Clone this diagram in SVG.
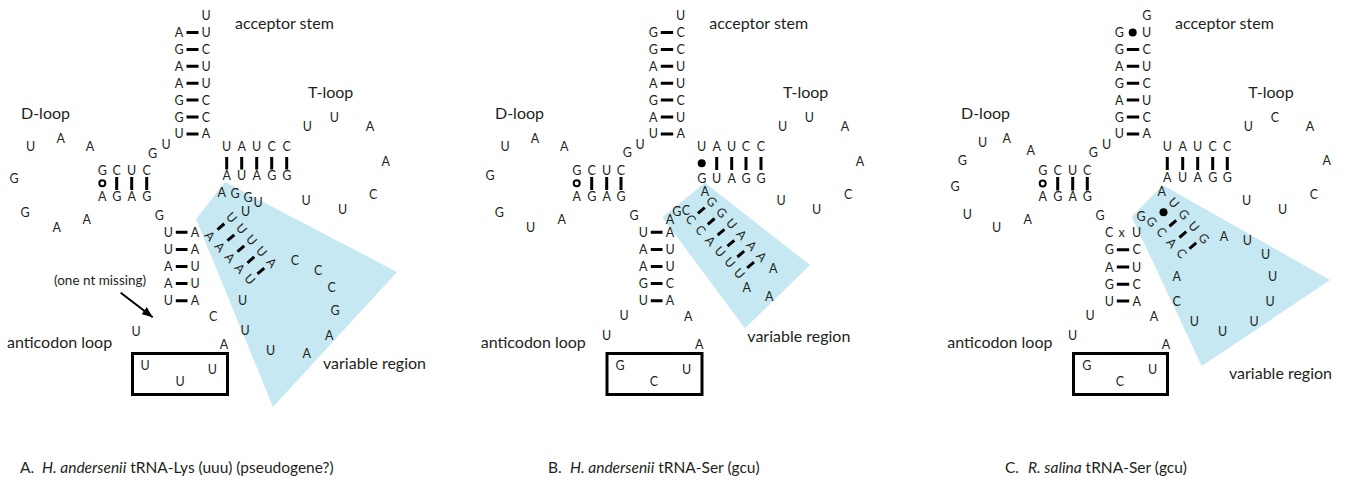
<svg xmlns="http://www.w3.org/2000/svg" width="1347" height="487" viewBox="0 0 1347 487">
<style>
text{font-family:Lato,"Open Sans","Liberation Sans",sans-serif;fill:#231f20}
.n{font-size:12.5px;text-anchor:middle}
.l{font-size:16px}
.s{font-size:13.5px}
.cap{font-size:15.5px}
.i{font-style:italic}
.b{stroke:#000;stroke-width:3;fill:none}
.o{stroke:#000;stroke-width:2;fill:#fff}
.d{fill:#000}
.box{stroke:#000;stroke-width:3;fill:none}
.var{fill:#c6e8f2}
</style>
<defs>
<marker id="ah" viewBox="0 0 10 8" refX="10" refY="4" markerWidth="11" markerHeight="9" orient="auto" markerUnits="userSpaceOnUse"><path d="M0,0 L10,4 L0,8 z" fill="#000"/></marker>
</defs>

<!-- ================= PANEL A ================= -->
<g id="panelA">
<polygon class="var" points="196,219 225,182 397,272 273,407"/>
<g id="A-labels">
<text class="l" x="235" y="28.5">acceptor stem</text>
<text class="l" x="21" y="118.5">D-loop</text>
<text class="l" x="308" y="98.3">T-loop</text>
<text class="l" x="7" y="347.7">anticodon loop</text>
<text class="l" x="323" y="369">variable region</text>
<text class="s" x="54" y="285">(one nt missing)</text>
</g>
<g id="A-acceptor">
<text class="n" x="206" y="19.5">U</text>
<text class="n" x="179" y="37">A</text><text class="n" x="206" y="37">U</text>
<text class="n" x="179" y="53.9">G</text><text class="n" x="206" y="53.9">C</text>
<text class="n" x="179" y="70.8">A</text><text class="n" x="206" y="70.8">U</text>
<text class="n" x="179" y="87.7">A</text><text class="n" x="206" y="87.7">U</text>
<text class="n" x="179" y="104.6">G</text><text class="n" x="206" y="104.6">C</text>
<text class="n" x="179" y="121.5">G</text><text class="n" x="206" y="121.5">C</text>
<text class="n" x="179" y="138.4">U</text><text class="n" x="206" y="138.4">A</text>
<text class="n" x="152.5" y="157.8">G</text><text class="n" x="166.2" y="149.2">U</text>
</g>
<g id="A-darm">
<text class="n" x="30.7" y="151.2">U</text><text class="n" x="60.7" y="142.8">A</text><text class="n" x="90" y="151.2">A</text>
<text class="n" x="14" y="182.8">G</text><text class="n" x="25" y="217.2">G</text><text class="n" x="56.7" y="232.2">A</text><text class="n" x="86.7" y="223.8">A</text>
<text class="n" x="102.3" y="174.5">G</text><text class="n" x="116.7" y="174.5">C</text><text class="n" x="131.7" y="174.5">U</text><text class="n" x="146.7" y="174.5">C</text>
<text class="n" x="102.3" y="200.5">A</text><text class="n" x="116.7" y="200.5">G</text><text class="n" x="131.7" y="200.5">A</text><text class="n" x="146.7" y="200.5">G</text>
<text class="n" x="159.3" y="219.5">G</text>
</g>
<g id="A-tarm">
<text class="n" x="226.7" y="151.2">U</text><text class="n" x="241.7" y="151.2">A</text><text class="n" x="256.7" y="151.2">U</text><text class="n" x="271.7" y="151.2">C</text><text class="n" x="286.7" y="151.2">C</text>
<text class="n" x="226.7" y="180.2">A</text><text class="n" x="241.7" y="180.2">U</text><text class="n" x="256.7" y="180.2">A</text><text class="n" x="271.7" y="180.2">G</text><text class="n" x="286.7" y="180.2">G</text>
<text class="n" x="307.3" y="130.5">U</text><text class="n" x="334.3" y="121.8">U</text><text class="n" x="370" y="131.2">A</text><text class="n" x="385.7" y="166.2">A</text>
<text class="n" x="373.3" y="198.5">C</text><text class="n" x="342.7" y="213.8">U</text><text class="n" x="306" y="204.5">U</text>
</g>
<g id="A-variable">
<text class="n" x="221.7" y="196.5">A</text><text class="n" x="235" y="197.8">G</text><text class="n" x="248" y="201.5">G</text><text class="n" x="258" y="206.5">U</text><text class="n" x="245.7" y="216.2">U</text>
<text class="n" transform="translate(231.7 217.3) rotate(48)" y="4.5">U</text>
<text class="n" transform="translate(241.7 228.65) rotate(48)" y="4.5">U</text>
<text class="n" transform="translate(251.7 240) rotate(48)" y="4.5">U</text>
<text class="n" transform="translate(261.7 251.35) rotate(48)" y="4.5">U</text>
<text class="n" transform="translate(271.7 262.7) rotate(48)" y="4.5">A</text>
<text class="n" transform="translate(210 236) rotate(48)" y="4.5">A</text>
<text class="n" transform="translate(220 246.8) rotate(48)" y="4.5">A</text>
<text class="n" transform="translate(230 257.6) rotate(48)" y="4.5">A</text>
<text class="n" transform="translate(240 268.4) rotate(48)" y="4.5">A</text>
<text class="n" transform="translate(250 279.2) rotate(48)" y="4.5">U</text>
<text class="n" x="295" y="264.5">C</text><text class="n" x="318.3" y="274.5">C</text><text class="n" x="331.7" y="291.8">C</text><text class="n" x="335" y="314.5">G</text>
<text class="n" x="329.3" y="339.5">A</text><text class="n" x="306.7" y="357.8">A</text><text class="n" x="270.7" y="354.5">U</text><text class="n" x="245" y="334.5">U</text><text class="n" x="242.7" y="305.2">U</text>
</g>
<g id="A-anticodon">
<text class="n" x="168.3" y="236.8">U</text><text class="n" x="195" y="236.8">A</text>
<text class="n" x="168.3" y="253.9">U</text><text class="n" x="195" y="253.9">A</text>
<text class="n" x="168.3" y="271">A</text><text class="n" x="195" y="271">U</text>
<text class="n" x="168.3" y="288.1">A</text><text class="n" x="195" y="288.1">U</text>
<text class="n" x="168.3" y="305.2">U</text><text class="n" x="195" y="305.2">A</text>
<text class="n" x="213.3" y="320.5">C</text><text class="n" x="224" y="348.5">A</text><text class="n" x="136" y="336.2">U</text>
<rect class="box" x="132.5" y="353.5" width="95" height="41"/>
<text class="n" x="145" y="370.2">U</text><text class="n" x="180" y="385.5">U</text><text class="n" x="212.3" y="373.5">U</text>
</g>
<g id="A-bonds">
<path class="b" d="M186.5,32.5H198.5M186.5,49.4H198.5M186.5,66.3H198.5M186.5,83.2H198.5M186.5,100.1H198.5M186.5,117H198.5M186.5,133.9H198.5"/>
<path class="b" d="M175.8,232.3H187.5M175.8,249.4H187.5M175.8,266.5H187.5M175.8,283.6H187.5M175.8,300.7H187.5"/>
<path class="b" d="M116.7,177V190M131.7,177V190M146.7,177V190"/>
<circle class="o" cx="102.3" cy="183.3" r="3"/>
<path class="b" d="M226.7,157V169.5M241.7,157V169.5M256.7,157V169.5M271.7,157V169.5M286.7,157V169.5"/>
<path class="b" d="M224.25,223.75L217.45,229.55M234.25,234.83L227.45,240.63M244.25,245.9L237.45,251.7M254.25,256.98L247.45,262.78M264.25,268.05L257.45,273.85"/>
</g>
</g>

<!-- ================= PANEL B ================= -->
<g id="panelB">
<polygon class="var" points="662.3,217.3 705,182.7 810,265 745,328.3"/>
<g id="B-labels">
<text class="l" x="709.3" y="28.5">acceptor stem</text>
<text class="l" x="495" y="118.5">D-loop</text>
<text class="l" x="783" y="98.3">T-loop</text>
<text class="l" x="480.7" y="347.7">anticodon loop</text>
<text class="l" x="747.3" y="342">variable region</text>
</g>
<g id="B-acceptor">
<text class="n" x="680.7" y="19.5">U</text>
<text class="n" x="653.3" y="37">G</text><text class="n" x="680.7" y="37">C</text>
<text class="n" x="653.3" y="53.9">G</text><text class="n" x="680.7" y="53.9">C</text>
<text class="n" x="653.3" y="70.8">A</text><text class="n" x="680.7" y="70.8">U</text>
<text class="n" x="653.3" y="87.7">A</text><text class="n" x="680.7" y="87.7">U</text>
<text class="n" x="653.3" y="104.6">G</text><text class="n" x="680.7" y="104.6">C</text>
<text class="n" x="653.3" y="121.5">A</text><text class="n" x="680.7" y="121.5">U</text>
<text class="n" x="653.3" y="138.4">U</text><text class="n" x="680.7" y="138.4">A</text>
<text class="n" x="627.3" y="157.2">G</text><text class="n" x="640" y="148.5">U</text>
</g>
<g id="B-darm">
<text class="n" x="505" y="151.2">U</text><text class="n" x="535" y="142.8">A</text><text class="n" x="564.3" y="151.2">A</text>
<text class="n" x="490" y="179.5">G</text><text class="n" x="499.3" y="217.2">G</text><text class="n" x="530.7" y="232.2">U</text><text class="n" x="561.7" y="223.8">A</text>
<text class="n" x="576.7" y="174.5">G</text><text class="n" x="591.7" y="174.5">C</text><text class="n" x="606.7" y="174.5">U</text><text class="n" x="621" y="174.5">C</text>
<text class="n" x="576.7" y="200.5">A</text><text class="n" x="591.7" y="200.5">G</text><text class="n" x="606.7" y="200.5">A</text><text class="n" x="621" y="200.5">G</text>
<text class="n" x="634" y="219.5">G</text>
</g>
<g id="B-tarm">
<text class="n" x="701.7" y="151.2">U</text><text class="n" x="716.7" y="151.2">A</text><text class="n" x="731.7" y="151.2">U</text><text class="n" x="746" y="151.2">C</text><text class="n" x="761" y="151.2">C</text>
<text class="n" x="701.7" y="182.5">G</text><text class="n" x="716.7" y="182.5">U</text><text class="n" x="731.7" y="182.5">A</text><text class="n" x="746" y="182.5">G</text><text class="n" x="761" y="182.5">G</text>
<text class="n" x="782.7" y="130.5">U</text><text class="n" x="809.3" y="121.8">U</text><text class="n" x="845" y="131.2">A</text><text class="n" x="860" y="166.2">A</text>
<text class="n" x="848.3" y="198.5">C</text><text class="n" x="816.7" y="213.8">U</text><text class="n" x="781" y="204.5">U</text>
</g>
<g id="B-variable">
<text class="n" x="705" y="196.2">A</text><text class="n" x="676.7" y="216.2">G</text><text class="n" x="686" y="215.2">C</text><text class="n" x="670" y="223.8">A</text>
<text class="n" transform="translate(711.7 201.7) rotate(48)" y="4.5">G</text>
<text class="n" transform="translate(721.7 212.7) rotate(48)" y="4.5">G</text>
<text class="n" transform="translate(731.7 223.7) rotate(48)" y="4.5">U</text>
<text class="n" transform="translate(741.7 234.7) rotate(48)" y="4.5">A</text>
<text class="n" transform="translate(751.7 245.7) rotate(48)" y="4.5">A</text>
<text class="n" transform="translate(761.7 256.7) rotate(48)" y="4.5">A</text>
<text class="n" transform="translate(691 219.3) rotate(48)" y="4.5">C</text>
<text class="n" transform="translate(700.7 230.1) rotate(48)" y="4.5">C</text>
<text class="n" transform="translate(710.4 240.9) rotate(48)" y="4.5">A</text>
<text class="n" transform="translate(720.1 251.7) rotate(48)" y="4.5">U</text>
<text class="n" transform="translate(729.8 262.5) rotate(48)" y="4.5">U</text>
<text class="n" transform="translate(739.5 273.3) rotate(48)" y="4.5">U</text>
<text class="n" x="773.3" y="272.8">A</text><text class="n" x="746.7" y="291.8">A</text><text class="n" x="769.3" y="301.2">A</text>
</g>
<g id="B-anticodon">
<text class="n" x="643.3" y="236.8">U</text><text class="n" x="670" y="236.8">A</text>
<text class="n" x="643.3" y="253.9">A</text><text class="n" x="670" y="253.9">U</text>
<text class="n" x="643.3" y="271">A</text><text class="n" x="670" y="271">U</text>
<text class="n" x="643.3" y="288.1">G</text><text class="n" x="670" y="288.1">C</text>
<text class="n" x="643.3" y="305.2">U</text><text class="n" x="670" y="305.2">A</text>
<text class="n" x="624" y="319.5">U</text><text class="n" x="606.7" y="339.5">U</text><text class="n" x="688.3" y="320.5">A</text><text class="n" x="699.3" y="348.5">A</text>
<rect class="box" x="607" y="353.5" width="95" height="41"/>
<text class="n" x="620" y="370.2">G</text><text class="n" x="654" y="385.5">C</text><text class="n" x="686.7" y="373.8">U</text>
</g>
<g id="B-bonds">
<path class="b" d="M660.8,32.5H673.2M660.8,49.4H673.2M660.8,66.3H673.2M660.8,83.2H673.2M660.8,100.1H673.2M660.8,117H673.2M660.8,133.9H673.2"/>
<path class="b" d="M650.8,232.3H662.5M650.8,249.4H662.5M650.8,266.5H662.5M650.8,283.6H662.5M650.8,300.7H662.5"/>
<path class="b" d="M591.7,177V190M606.7,177V190M621,177V190"/>
<circle class="o" cx="576.7" cy="183.3" r="3"/>
<circle class="d" cx="701.7" cy="163.3" r="4"/>
<path class="b" d="M716.7,157V170M731.7,157V170M746,157V170M761,157V170"/>
<path class="b" d="M704.75,207.6L697.95,213.4M714.6,218.5L707.8,224.3M724.45,229.4L717.65,235.2M734.3,240.3L727.5,246.1M744.15,251.2L737.35,257M754,262.1L747.2,267.9"/>
</g>
</g>

<!-- ================= PANEL C ================= -->
<g id="panelC">
<polygon class="var" points="1131.7,216.7 1162.7,185 1330,280 1201.7,366"/>
<g id="C-labels">
<text class="l" x="1175" y="28.5">acceptor stem</text>
<text class="l" x="961" y="118.5">D-loop</text>
<text class="l" x="1248.3" y="98.3">T-loop</text>
<text class="l" x="947.3" y="347.7">anticodon loop</text>
<text class="l" x="1229" y="378.5">variable region</text>
</g>
<g id="C-acceptor">
<text class="n" x="1146.7" y="19.5">G</text>
<text class="n" x="1119.3" y="37">G</text><text class="n" x="1146.7" y="37">U</text>
<text class="n" x="1119.3" y="53.9">G</text><text class="n" x="1146.7" y="53.9">C</text>
<text class="n" x="1119.3" y="70.8">A</text><text class="n" x="1146.7" y="70.8">U</text>
<text class="n" x="1119.3" y="87.7">G</text><text class="n" x="1146.7" y="87.7">C</text>
<text class="n" x="1119.3" y="104.6">A</text><text class="n" x="1146.7" y="104.6">U</text>
<text class="n" x="1119.3" y="121.5">G</text><text class="n" x="1146.7" y="121.5">C</text>
<text class="n" x="1119.3" y="138.4">U</text><text class="n" x="1146.7" y="138.4">A</text>
<text class="n" x="1093.3" y="157.2">G</text><text class="n" x="1106.7" y="148.5">U</text>
</g>
<g id="C-darm">
<text class="n" x="982.7" y="147.2">U</text><text class="n" x="1006.7" y="142.8">A</text><text class="n" x="1030.7" y="154.5">A</text>
<text class="n" x="962.3" y="164.5">G</text><text class="n" x="955" y="191.2">G</text><text class="n" x="967.3" y="218.5">U</text><text class="n" x="996.7" y="231.8">U</text><text class="n" x="1027.7" y="223.8">A</text>
<text class="n" x="1042.7" y="174.5">G</text><text class="n" x="1057.7" y="174.5">C</text><text class="n" x="1072.7" y="174.5">U</text><text class="n" x="1087.3" y="174.5">C</text>
<text class="n" x="1042.7" y="201.2">A</text><text class="n" x="1057.7" y="201.2">G</text><text class="n" x="1072.7" y="201.2">A</text><text class="n" x="1087.3" y="201.2">G</text>
<text class="n" x="1100" y="219.5">G</text>
</g>
<g id="C-tarm">
<text class="n" x="1167.3" y="151.2">U</text><text class="n" x="1182.7" y="151.2">A</text><text class="n" x="1197.7" y="151.2">U</text><text class="n" x="1212.7" y="151.2">C</text><text class="n" x="1227.3" y="151.2">C</text>
<text class="n" x="1167.3" y="181.8">A</text><text class="n" x="1182.7" y="181.8">U</text><text class="n" x="1197.7" y="181.8">A</text><text class="n" x="1212.7" y="181.8">G</text><text class="n" x="1227.3" y="181.8">G</text>
<text class="n" x="1248.3" y="130.5">U</text><text class="n" x="1275" y="121.8">C</text><text class="n" x="1310" y="131.2">A</text><text class="n" x="1326.7" y="165.2">A</text>
<text class="n" x="1314" y="198.5">C</text><text class="n" x="1282.7" y="213.8">U</text><text class="n" x="1246.7" y="204.5">U</text>
</g>
<g id="C-variable">
<text class="n" x="1161.7" y="196.2">A</text><text class="n" x="1141" y="220.5">G</text>
<text class="n" transform="translate(1174 202.7) rotate(48)" y="4.5">U</text>
<text class="n" transform="translate(1184 214.5) rotate(48)" y="4.5">G</text>
<text class="n" transform="translate(1194 226.4) rotate(48)" y="4.5">U</text>
<text class="n" transform="translate(1204 238.3) rotate(48)" y="4.5">G</text>
<text class="n" transform="translate(1151.7 221.7) rotate(48)" y="4.5">G</text>
<text class="n" transform="translate(1161.7 232.2) rotate(48)" y="4.5">C</text>
<text class="n" transform="translate(1171.7 242.8) rotate(48)" y="4.5">A</text>
<text class="n" transform="translate(1181.7 253.3) rotate(48)" y="4.5">C</text>
<text class="n" x="1224" y="241.2">A</text><text class="n" x="1247.3" y="245.2">U</text><text class="n" x="1265.7" y="258.5">U</text><text class="n" x="1272.7" y="280.5">U</text>
<text class="n" x="1270" y="305.5">U</text><text class="n" x="1254" y="325.5">U</text><text class="n" x="1222.7" y="336.2">U</text><text class="n" x="1194.3" y="326.2">U</text>
<text class="n" x="1176.7" y="306.2">C</text><text class="n" x="1176.7" y="280.5">A</text>
</g>
<g id="C-anticodon">
<text class="n" x="1109.3" y="237.2">C</text><text class="n" x="1121.7" y="236.8" font-size="11">x</text><text class="n" x="1136.7" y="237.2">U</text>
<text class="n" x="1109.3" y="254.3">G</text><text class="n" x="1136.7" y="254.3">C</text>
<text class="n" x="1109.3" y="271.6">A</text><text class="n" x="1136.7" y="271.6">U</text>
<text class="n" x="1109.3" y="288.7">G</text><text class="n" x="1136.7" y="288.7">C</text>
<text class="n" x="1109.3" y="305.5">U</text><text class="n" x="1136.7" y="305.5">A</text>
<text class="n" x="1090" y="319.5">U</text><text class="n" x="1072.7" y="339.5">U</text><text class="n" x="1154" y="320.5">A</text><text class="n" x="1166" y="348.5">A</text>
<rect class="box" x="1073.5" y="353.5" width="94" height="41"/>
<text class="n" x="1086.7" y="370.2">G</text><text class="n" x="1120" y="385.5">C</text><text class="n" x="1152.7" y="373.8">U</text>
</g>
<g id="C-bonds">
<circle class="d" cx="1132.7" cy="32.5" r="4"/>
<path class="b" d="M1126.8,49.4H1139.2M1126.8,66.3H1139.2M1126.8,83.2H1139.2M1126.8,100.1H1139.2M1126.8,117H1139.2M1126.8,133.9H1139.2"/>
<path class="b" d="M1116.8,249.8H1129.2M1116.8,267.1H1129.2M1116.8,284.2H1129.2M1116.8,301H1129.2"/>
<path class="b" d="M1057.7,177V190.5M1072.7,177V190.5M1087.3,177V190.5"/>
<circle class="o" cx="1042.7" cy="183.5" r="3"/>
<path class="b" d="M1167.3,157V170M1182.7,157V170M1197.7,157V170M1212.7,157V170M1227.3,157V170"/>
<circle class="d" cx="1163.5" cy="212.3" r="4"/>
<path class="b" d="M1176.25,220.45L1169.45,226.25M1186.25,231.7L1179.45,237.5M1196.25,242.9L1189.45,248.7"/>
</g>
</g>

<g id="connectors">
<line x1="120.7" y1="292.7" x2="152.7" y2="317.3" stroke="#000" stroke-width="2" marker-end="url(#ah)"/>
</g>

<g id="captions">
<text class="cap" y="473"><tspan x="20">A.</tspan><tspan x="42" class="i">H. andersenii</tspan><tspan> tRNA-Lys (uuu) (pseudogene?)</tspan></text>
<text class="cap" y="473"><tspan x="548">B.</tspan><tspan x="570" class="i">H. andersenii</tspan><tspan> tRNA-Ser (gcu)</tspan></text>
<text class="cap" y="473"><tspan x="1005">C.</tspan><tspan x="1028" class="i">R. salina</tspan><tspan> tRNA-Ser (gcu)</tspan></text>
</g>
</svg>
